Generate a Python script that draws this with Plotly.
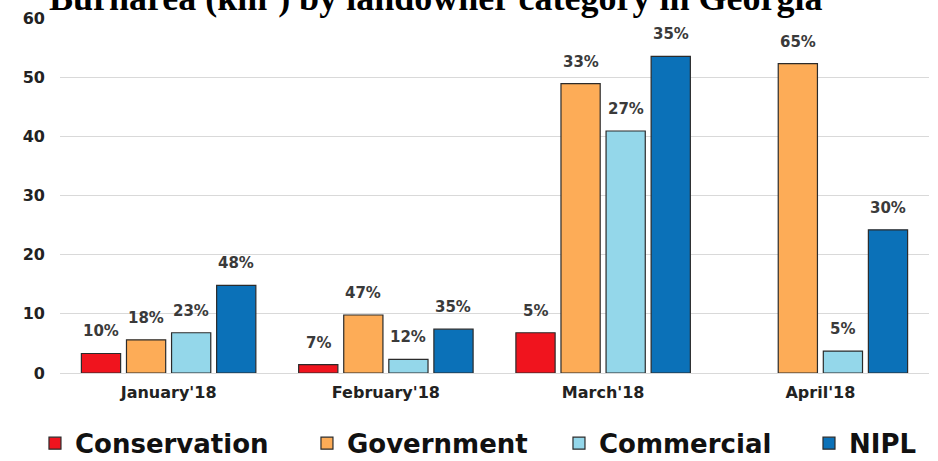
import plotly.graph_objects as go

months = ["January'18", "February'18", "March'18", "April'18"]
series_names = ["Conservation", "Government", "Commercial", "NIPL"]
conservation = [3.3, 1.4, 6.8, None]
government = [5.6, 9.8, 48.9, 52.3]
commercial = [6.8, 2.3, 40.9, 3.7]
nipl = [14.8, 7.4, 53.5, 24.2]
pct_conservation = ["10%", "7%", "5%", None]
pct_government = ["18%", "47%", "33%", "65%"]
pct_commercial = ["23%", "12%", "27%", "5%"]
pct_nipl = ["48%", "35%", "35%", "30%"]
y_ticks = [0, 10, 20, 30, 40, 50, 60]
title_text = "Burnarea (km²) by landowner category in Georgia"

values = [conservation, government, commercial, nipl]
pcts = [pct_conservation, pct_government, pct_commercial, pct_nipl]
colors = ["#F0141E", "#FDAC57", "#94D7EA", "#0B71B8"]
legend_ids = ["legend", "legend2", "legend3", "legend4"]
legend_x = [-0.0288, 0.2842, 0.5742, 0.8619]
shifts = [-67.5, -22.5, 22.5, 67.5]

FONT = "DejaVu Sans"
fig = go.Figure()
for name, vals, col, lg in zip(series_names, values, colors, legend_ids):
    fig.add_trace(go.Bar(
        x=months, y=vals, name=name, legend=lg,
        marker=dict(color=col, line=dict(color="#2b2b2b", width=1.2)),
    ))

annotations = []
for vals, labels, dx in zip(values, pcts, shifts):
    for m, v, t in zip(months, vals, labels):
        if v is None or t is None:
            continue
        annotations.append(dict(
            x=m, y=v, xref="x", yref="y", text=t, showarrow=False,
            xshift=dx, yshift=11, yanchor="bottom", xanchor="center",
            font=dict(family=FONT, size=15, color="#3a3a3a", weight="bold"),
        ))

annotations.append(dict(
    x=(47 - 60) / 869, y=0.993, xref="paper", yref="paper", text=title_text,
    showarrow=False, xanchor="left", yanchor="bottom",
    font=dict(family="Liberation Serif", size=36, color="#000000", weight="bold"),
))

layout_legends = {}
for lg, lx in zip(legend_ids, legend_x):
    layout_legends[lg] = dict(
        x=lx, y=-0.198, xanchor="left", yanchor="middle", orientation="h",
        bgcolor="rgba(0,0,0,0)", borderwidth=0,
        font=dict(family=FONT, size=26, color="#111111", weight="bold"),
    )

fig.update_layout(
    width=938, height=461,
    margin=dict(l=60, r=9, t=17.5, b=88.3, autoexpand=False),
    paper_bgcolor="white", plot_bgcolor="white",
    barmode="group", bargap=0.17, bargroupgap=0.13,
    showlegend=True,
    annotations=annotations,
    xaxis=dict(
        type="category", showgrid=False, showline=False, zeroline=False,
        ticks="", ticklabelstandoff=8,
        tickfont=dict(family=FONT, size=16, color="#222222", weight="bold"),
    ),
    yaxis=dict(
        range=[0, 60], tickvals=y_ticks, showgrid=True, gridcolor="#d9d9d9",
        gridwidth=1, zeroline=True, zerolinecolor="#d9d9d9", zerolinewidth=1,
        showline=False, ticks="", ticklabelstandoff=14,
        tickfont=dict(family=FONT, size=16, color="#222222", weight="bold"),
    ),
    **layout_legends,
)

fig.write_html("out.html")
